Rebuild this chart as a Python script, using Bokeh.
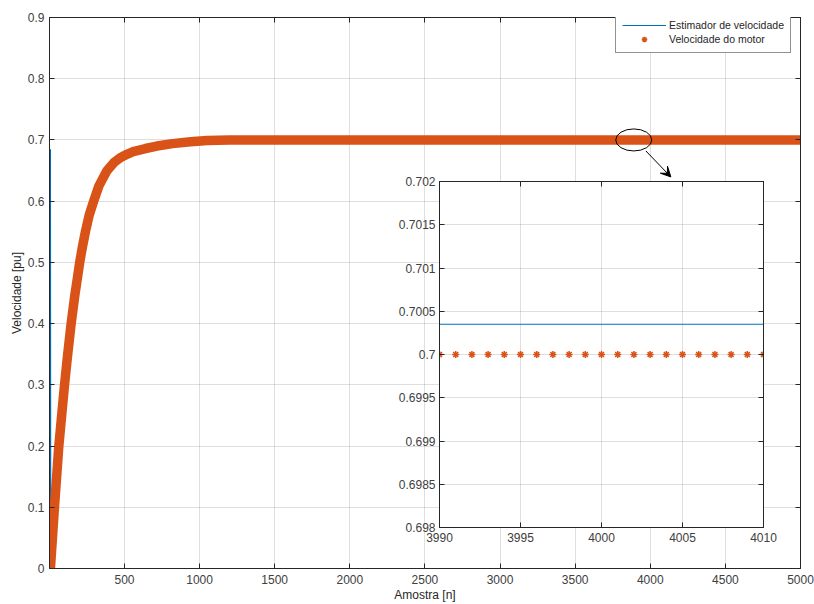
from bokeh.plotting import figure
from bokeh.layouts import column
from bokeh.models import (FixedTicker, CustomJSTickFormatter, LinearAxis, Legend,
                          LegendItem, Arrow, VeeHead, Range1d)
from bokeh.embed import file_html
from bokeh.resources import INLINE

# ---------------- data ----------------
motor_n = [1, 7, 34, 63, 101, 120, 145, 170, 189, 202, 220, 240, 265, 295, 330, 384,
           430, 472, 520, 558, 640, 716, 820, 940, 1050, 1200, 5000]
motor_v = [0.0, 0.0, 0.1, 0.2, 0.3, 0.345, 0.4, 0.447, 0.478, 0.5, 0.525, 0.55, 0.577,
           0.6, 0.625, 0.65, 0.663, 0.671, 0.677, 0.681, 0.686, 0.69, 0.694, 0.697,
           0.699, 0.7, 0.7]

est_n = [1, 7, 9, 30, 60, 97, 140, 185, 198, 236, 290, 378, 466, 552, 710, 935, 1200, 5000]
est_v = [0.0, 0.685, 0.02, 0.1, 0.2, 0.3, 0.4, 0.47, 0.5, 0.55, 0.6, 0.65, 0.67, 0.68,
         0.69, 0.697, 0.70035, 0.70035]

inset_n = [3990, 3991, 3992, 3993, 3994, 3995, 3996, 3997, 3998, 3999, 4000,
           4001, 4002, 4003, 4004, 4005, 4006, 4007, 4008, 4009, 4010]
inset_motor = [0.7, 0.7, 0.7, 0.7, 0.7, 0.7, 0.7, 0.7, 0.7, 0.7, 0.7,
               0.7, 0.7, 0.7, 0.7, 0.7, 0.7, 0.7, 0.7, 0.7, 0.7]
inset_est = [0.70035, 0.70035, 0.70035, 0.70035, 0.70035, 0.70035, 0.70035,
             0.70035, 0.70035, 0.70035, 0.70035, 0.70035, 0.70035, 0.70035,
             0.70035, 0.70035, 0.70035, 0.70035, 0.70035, 0.70035, 0.70035]

x_ticks = [500, 1000, 1500, 2000, 2500, 3000, 3500, 4000, 4500, 5000]
y_ticks = [0, 0.1, 0.2, 0.3, 0.4, 0.5, 0.6, 0.7, 0.8, 0.9]
inset_x_ticks = [3990, 3995, 4000, 4005, 4010]
inset_y_ticks = [0.698, 0.6985, 0.699, 0.6995, 0.7, 0.7005, 0.701, 0.7015, 0.702]

zoom_mark = (3890, 0.7)
arrow_from = (3971, 0.682)
arrow_to = (4137, 0.6396)

# ---------------- styles ----------------
BLUE = "#0072BD"
ORANGE = "#D95319"
AX = "#262626"
LBL = "#404040"
FONT = "Liberation Sans"

fmt = CustomJSTickFormatter(code="return String(Number(tick.toFixed(5)));")
blank = CustomJSTickFormatter(code="return '';")


def style_axis(ax, ticks, show_labels=True, size="12px"):
    ax.ticker = FixedTicker(ticks=ticks)
    ax.major_tick_in = 5
    ax.major_tick_out = 0
    ax.minor_tick_line_color = None
    ax.axis_line_color = AX
    ax.major_tick_line_color = AX
    ax.major_label_text_font = FONT
    ax.major_label_text_color = LBL
    ax.major_label_text_font_size = size
    if show_labels:
        ax.formatter = fmt
    else:
        ax.formatter = blank
        ax.major_label_standoff = 0


# ---------------- main figure ----------------
p = figure(width=814, height=604, x_range=Range1d(1, 5000), y_range=Range1d(0, 0.9),
           output_backend="svg", toolbar_location=None,
           min_border_left=49, min_border_right=12, min_border_top=17, min_border_bottom=34)
p.outline_line_color = AX
p.background_fill_color = "white"
p.border_fill_color = "white"
p.grid.grid_line_color = AX
p.grid.grid_line_alpha = 0.15
p.xgrid.ticker = FixedTicker(ticks=x_ticks)
p.ygrid.ticker = FixedTicker(ticks=y_ticks)

style_axis(p.xaxis[0], x_ticks)
style_axis(p.yaxis[0], y_ticks)
p.xaxis.major_label_standoff = 6
p.yaxis.major_label_standoff = 5
p.xaxis.axis_label = "Amostra [n]"
p.yaxis.axis_label = "Velocidade [pu]"
for ax in (p.xaxis[0], p.yaxis[0]):
    ax.axis_label_text_font = FONT
    ax.axis_label_text_font_size = "12px"
    ax.axis_label_text_font_style = "normal"
    ax.axis_label_text_color = AX
    ax.axis_label_standoff = 1

top_ax = LinearAxis()
style_axis(top_ax, x_ticks, show_labels=False)
p.add_layout(top_ax, "above")
right_ax = LinearAxis()
style_axis(right_ax, y_ticks, show_labels=False)
p.add_layout(right_ax, "right")

est_r = p.line(est_n, est_v, line_color=BLUE, line_width=1.2)
p.line(motor_n, motor_v, line_color=ORANGE, line_width=9.5, line_cap="round", line_join="round")
motor_r = p.scatter(motor_n, motor_v, marker="asterisk", size=7, line_color=ORANGE, line_width=1.5)

p.ellipse(x=[zoom_mark[0]], y=[zoom_mark[1]], width=36, height=22,
          width_units="screen", height_units="screen",
          fill_color=None, line_color="black", line_width=1)
p.add_layout(Arrow(end=VeeHead(size=10, fill_color="black", line_color="black"),
                   x_start=arrow_from[0], y_start=arrow_from[1],
                   x_end=arrow_to[0], y_end=arrow_to[1],
                   line_color="black", line_width=1))

legend = Legend(items=[LegendItem(label="Estimador de velocidade", renderers=[est_r]),
                       LegendItem(label="Velocidade do motor", renderers=[motor_r])],
                location=(566, 515), margin=0, padding=6, spacing=0,
                glyph_width=44, glyph_height=14, label_height=14, label_standoff=3,
                label_text_font=FONT, label_text_font_size="10.5px", label_text_color=AX,
                border_line_color=AX, border_line_width=1,
                background_fill_color="white", background_fill_alpha=1)
p.add_layout(legend)

# ---------------- inset figure ----------------
q = figure(width=387, height=374, x_range=Range1d(3990, 4010), y_range=Range1d(0.698, 0.702),
           output_backend="svg", toolbar_location=None,
           min_border_left=44, min_border_right=14, min_border_top=6, min_border_bottom=22)
q.outline_line_color = AX
q.background_fill_color = "white"
q.border_fill_alpha = 0
q.grid.grid_line_color = AX
q.grid.grid_line_alpha = 0.15
q.xgrid.ticker = FixedTicker(ticks=inset_x_ticks)
q.ygrid.ticker = FixedTicker(ticks=inset_y_ticks)
style_axis(q.xaxis[0], inset_x_ticks)
style_axis(q.yaxis[0], inset_y_ticks)
q.xaxis.major_label_standoff = 5
q.yaxis.major_label_standoff = 4
qt = LinearAxis()
style_axis(qt, inset_x_ticks, show_labels=False)
q.add_layout(qt, "above")
qr = LinearAxis()
style_axis(qr, inset_y_ticks, show_labels=False)
q.add_layout(qr, "right")

q.line(inset_n, inset_est, line_color=BLUE, line_width=1.2)
q.scatter(inset_n, inset_motor, marker="asterisk", size=7, line_color=ORANGE, line_width=1.5)

q.styles = {"position": "absolute", "left": "390px", "top": "175px", "z-index": "10"}

root = column(p, q)
open("out.html", "w").write(file_html(root, INLINE))
